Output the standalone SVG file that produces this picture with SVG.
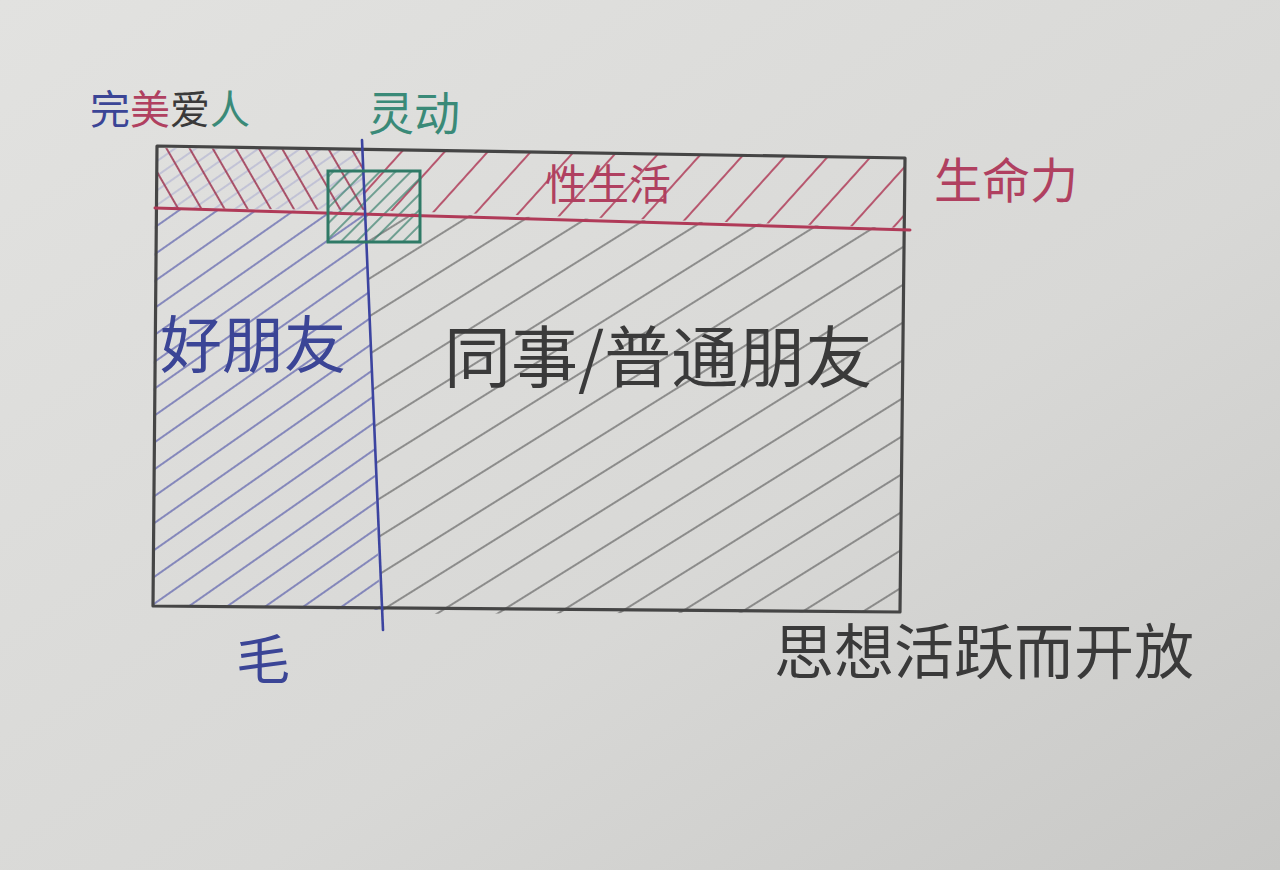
<svg xmlns="http://www.w3.org/2000/svg" width="1280" height="870" viewBox="0 0 1280 870">
<defs>
<linearGradient id="paper" x1="0" y1="0" x2="1" y2="1">
<stop offset="0" stop-color="#e2e2e0"/>
<stop offset="0.6" stop-color="#d8d8d6"/>
<stop offset="1" stop-color="#c8c8c6"/>
</linearGradient>
<pattern id="hGray" width="40" height="32" patternUnits="userSpaceOnUse" patternTransform="rotate(-32)">
<line x1="0" y1="16" x2="40" y2="16" stroke="#505050" stroke-width="1.7" stroke-opacity="0.75"/>
</pattern>
<pattern id="hBlue" width="40" height="22" patternUnits="userSpaceOnUse" patternTransform="rotate(-35)">
<line x1="0" y1="11" x2="40" y2="11" stroke="#4a50a8" stroke-width="1.5" stroke-opacity="0.8"/>
</pattern>
<pattern id="hBlueFaint" width="40" height="12" patternUnits="userSpaceOnUse" patternTransform="rotate(-35)">
<line x1="0" y1="6" x2="40" y2="6" stroke="#6a70c0" stroke-width="1.2" stroke-opacity="0.5"/>
</pattern>
<pattern id="hRedR" width="40" height="32" patternUnits="userSpaceOnUse" patternTransform="rotate(-48)">
<line x1="0" y1="16" x2="40" y2="16" stroke="#b0405c" stroke-width="1.8" stroke-opacity="0.85"/>
</pattern>
<pattern id="hRedL" width="40" height="20" patternUnits="userSpaceOnUse" patternTransform="rotate(60)">
<line x1="0" y1="10" x2="40" y2="10" stroke="#a03a55" stroke-width="1.8" stroke-opacity="0.85"/>
</pattern>
<pattern id="hGreen" width="40" height="11" patternUnits="userSpaceOnUse" patternTransform="rotate(-45)">
<line x1="0" y1="5" x2="40" y2="5" stroke="#2f7a66" stroke-width="1.5" stroke-opacity="0.85"/>
</pattern>
<style>
.t{font-family:"Noto Sans CJK SC","Noto Sans CJK JP",sans-serif;font-weight:400}
.blk{fill:#3a3a3a}
.red{fill:#b04060}
.blu{fill:#3b4596}
.grn{fill:#3a8a78}
</style>
</defs>
<rect x="0" y="0" width="1280" height="870" fill="url(#paper)"/>

<g id="hatching">
<polygon points="365,212 903,228 900,612 382,614" fill="url(#hGray)"/>
<polygon points="155,208 365,212 380,610 152,606" fill="url(#hBlue)"/>
<polygon points="157,148 362,150 364,210 157,208" fill="url(#hBlueFaint)"/>
<polygon points="157,148 362,150 364,210 157,208" fill="url(#hRedL)"/>
<polygon points="362,150 905,158 905,228 364,210" fill="url(#hRedR)"/>
<rect x="328" y="171" width="92" height="71" fill="url(#hGreen)"/>
</g>

<g id="frame">
<path d="M157,146 L905,158 L900,612 L153,606 Z" fill="none" stroke="#454545" stroke-width="3.2" stroke-linejoin="round"/>
</g>

<g id="connectors">
<path d="M155,208 L910,230" fill="none" stroke="#b03a58" stroke-width="3" stroke-linecap="round"/>
<path d="M362,140 L383,630" fill="none" stroke="#3c44a0" stroke-width="2.6" stroke-linecap="round"/>
</g>

<g id="lingdong-box">
<rect x="328" y="171" width="92" height="71" fill="none" stroke="#2f7a66" stroke-width="3"/>
</g>

<g id="label-wanmei">
<text class="t" x="90" y="124" font-size="40"><tspan class="blu">完</tspan><tspan class="red">美</tspan><tspan class="blk">爱</tspan><tspan class="grn">人</tspan></text>
</g>
<g id="label-lingdong">
<text class="t grn" x="368" y="130" font-size="46">灵动</text>
</g>
<g id="label-shengmingli">
<text class="t red" x="934" y="198" font-size="48">生命力</text>
</g>
<g id="label-xingshenghuo">
<text class="t red" x="545" y="200" font-size="42">性生活</text>
</g>
<g id="label-haopengyou">
<text class="t blu" x="160" y="368" font-size="62">好朋友</text>
</g>
<g id="label-tongshi">
<text class="t blk" x="444" y="382" font-size="67">同事/普通朋友</text>
</g>
<g id="label-mao">
<text class="t blu" x="236" y="680" font-size="54">毛</text>
</g>
<g id="label-sixiang">
<text class="t blk" x="774" y="674" font-size="60">思想活跃而开放</text>
</g>
</svg>
